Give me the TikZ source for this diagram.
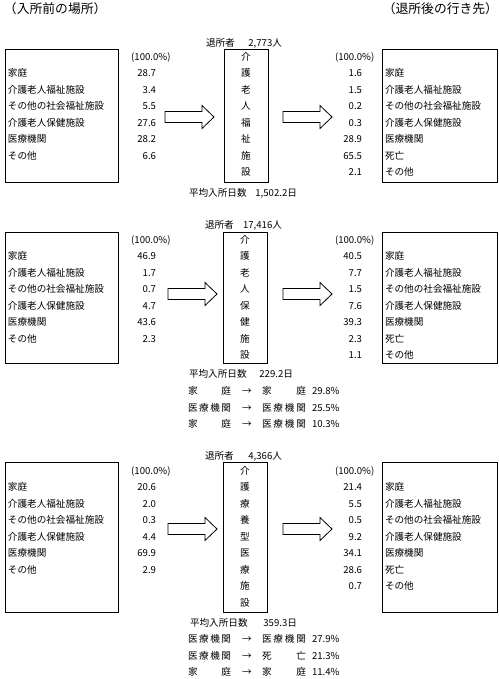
\documentclass[tikz,border=0pt]{standalone}
\usepackage{fontspec}
\setmainfont{Noto Sans CJK JP}
\usetikzlibrary{positioning}

\tikzset{
  every node/.append style={inner sep=0pt, outer sep=0pt},
  txt/.style={text height=8pt, text depth=0.8pt},
  lbl/.style={txt, anchor=west},
  num/.style={txt, anchor=east},
  kan/.style={txt, anchor=center},
  panel/.style={draw, line width=0.8pt, anchor=north west, minimum height=#1},
  blockarrow/.style={draw, line width=0.8pt},
  bigfont/.style={font=\fontsize{12.8}{14}\selectfont},
}

\begin{document}
\begin{tikzpicture}[x=1pt, y=-1pt, font=\fontsize{9.6}{12}\selectfont]
    \useasboundingbox (0,0) rectangle (498,679);
    % titles
    \node[bigfont, anchor=west] (tin) at (4,9) {（入所前の場所）};
    \node[bigfont, anchor=east] (tout) at (498,9) {（退所後の行き先）};

    % boxes
    \node[panel=133pt, minimum width=113pt] (inA) at (5,49) {};
    \node[panel=133pt, minimum width=44pt] (facA) at (224,49) {};
    \node[panel=133pt, minimum width=115pt] (outA) at (382,49) {};
    \node[panel=131pt, minimum width=113pt] (inB) at (5,232) {};
    \node[panel=131pt, minimum width=44pt] (facB) at (223,232) {};
    \node[panel=131pt, minimum width=115pt] (outB) at (382,232) {};
    \node[panel=150pt, minimum width=113pt] (inC) at (5,462) {};
    \node[panel=150pt, minimum width=44pt] (facC) at (223,462) {};
    \node[panel=150pt, minimum width=115pt] (outC) at (382,462) {};

    % block arrows
    \draw[blockarrow] (165,111.5) -- ++(37,0) -- ++(0,-6) -- ++(12,11.5) -- ++(-12,11.5) -- ++(0,-6) -- ++(-37,0) -- cycle;
    \draw[blockarrow] (283,111.5) -- ++(37,0) -- ++(0,-6) -- ++(12,11.5) -- ++(-12,11.5) -- ++(0,-6) -- ++(-37,0) -- cycle;
    \draw[blockarrow] (168,288.5) -- ++(37,0) -- ++(0,-6) -- ++(12,11.5) -- ++(-12,11.5) -- ++(0,-6) -- ++(-37,0) -- cycle;
    \draw[blockarrow] (283,288.5) -- ++(37,0) -- ++(0,-6) -- ++(12,11.5) -- ++(-12,11.5) -- ++(0,-6) -- ++(-37,0) -- cycle;
    \draw[blockarrow] (168,523.5) -- ++(37,0) -- ++(0,-6) -- ++(12,11.5) -- ++(-12,11.5) -- ++(0,-6) -- ++(-37,0) -- cycle;
    \draw[blockarrow] (283,523.5) -- ++(37,0) -- ++(0,-6) -- ++(12,11.5) -- ++(-12,11.5) -- ++(0,-6) -- ++(-37,0) -- cycle;

    % row labels, same in every section
    \foreach \s/\y in {A/56.5, B/239.5, C/470.5} {
        \foreach \t [count=\i] in {家庭,介護老人福祉施設,その他の社会福祉施設,介護老人保健施設,医療機関,その他}
            \node[lbl] (in\s\i) at (8,{\y+16.5*\i}) {\t};
        \foreach \t [count=\i] in {家庭,介護老人福祉施設,その他の社会福祉施設,介護老人保健施設,医療機関,死亡,その他}
            \node[lbl] (out\s\i) at (385,{\y+16.5*\i}) {\t};
        \node[num] (inp\s) at (170.5,\y) {(100.0\%)};
        \node[lbl] (outp\s) at (335,\y) {(100.0\%)};
    }

    % 介護老人福祉施設
    \node[lbl] (cntA) at (206,43) {\hbox to 76pt{退所者\hfill 2,773人}};
    \foreach \c [count=\i from 0] in {介,護,老,人,福,祉,施,設}
        \node[kan] (facA\i) at (246,{56.5+16.5*\i}) {\c};
    \foreach \v [count=\i] in {28.7,3.4,5.5,27.6,28.2,6.6}
        \node[num] (vinA\i) at (156,{56.5+16.5*\i}) {\v};
    \foreach \v [count=\i] in {1.6,1.5,0.2,0.3,28.9,65.5,2.1}
        \node[num] (voutA\i) at (362,{56.5+16.5*\i}) {\v};
    \node[lbl] (dayA) at (189,193) {\hbox to 108pt{平均入所日数\hfill 1,502.2日}};

    % 介護老人保健施設
    \node[lbl] (cntB) at (205,225) {\hbox to 77pt{退所者\hfill 17,416人}};
    \foreach \c [count=\i from 0] in {介,護,老,人,保,健,施,設}
        \node[kan] (facB\i) at (245,{239.5+16.5*\i}) {\c};
    \foreach \v [count=\i] in {46.9,1.7,0.7,4.7,43.6,2.3}
        \node[num] (vinB\i) at (156,{239.5+16.5*\i}) {\v};
    \foreach \v [count=\i] in {40.5,7.7,1.5,7.6,39.3,2.3,1.1}
        \node[num] (voutB\i) at (362,{239.5+16.5*\i}) {\v};
    \node[lbl] (dayB) at (189,374) {\hbox to 104pt{平均入所日数\hfill 229.2日}};
    \foreach \a/\b/\p [count=\i from 0] in {{家\hfill 庭}/{家\hfill 庭}/29.8, {医\hfill 療\hfill 機\hfill 関}/{医\hfill 療\hfill 機\hfill 関}/25.5, {家\hfill 庭}/{医\hfill 療\hfill 機\hfill 関}/10.3} {
        \node[lbl] (frB\i) at (188,{391+16.5*\i}) {\hbox to 43pt{\a}};
        \node[kan] (arB\i) at (247,{391+16.5*\i}) {→};
        \node[lbl] (toB\i) at (262,{391+16.5*\i}) {\hbox to 44pt{\b}};
        \node[lbl] (pcB\i) at (312,{391+16.5*\i}) {\p\%};
    }

    % 介護療養型医療施設
    \node[lbl] (cntC) at (205,456) {\hbox to 77pt{退所者\hfill 4,366人}};
    \foreach \c [count=\i from 0] in {介,護,療,養,型,医,療,施,設}
        \node[kan] (facC\i) at (245,{470.5+16.5*\i}) {\c};
    \foreach \v [count=\i] in {20.6,2.0,0.3,4.4,69.9,2.9}
        \node[num] (vinC\i) at (156,{470.5+16.5*\i}) {\v};
    \foreach \v [count=\i] in {21.4,5.5,0.5,9.2,34.1,28.6,0.7}
        \node[num] (voutC\i) at (362,{470.5+16.5*\i}) {\v};
    \node[lbl] (dayC) at (190,622.5) {\hbox to 107pt{平均入所日数\hfill 359.3日}};
    \foreach \a/\b/\p [count=\i from 0] in {{医\hfill 療\hfill 機\hfill 関}/{医\hfill 療\hfill 機\hfill 関}/27.9, {医\hfill 療\hfill 機\hfill 関}/{死\hfill 亡}/21.3, {家\hfill 庭}/{家\hfill 庭}/11.4} {
        \node[lbl] (frC\i) at (188,{639+16.5*\i}) {\hbox to 43pt{\a}};
        \node[kan] (arC\i) at (247,{639+16.5*\i}) {→};
        \node[lbl] (toC\i) at (262,{639+16.5*\i}) {\hbox to 44pt{\b}};
        \node[lbl] (pcC\i) at (312,{639+16.5*\i}) {\p\%};
    }
\end{tikzpicture}
\end{document}
